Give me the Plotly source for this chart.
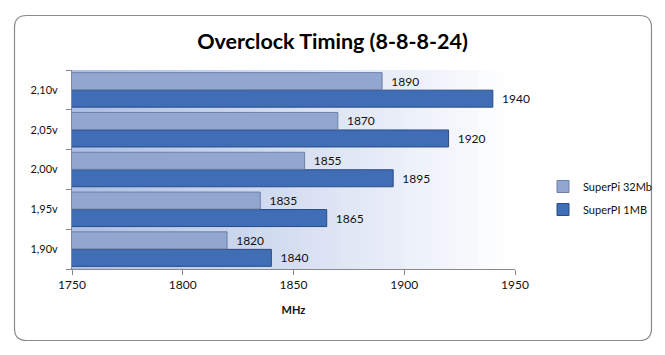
import plotly.graph_objects as go

categories = ["1,90v", "1,95v", "2,00v", "2,05v", "2,10v"]
superpi_32mb = [1820, 1835, 1855, 1870, 1890]
superpi_1mb = [1840, 1865, 1895, 1920, 1940]
x_ticks = [1750, 1800, 1850, 1900, 1950]

W, H = 665, 355
ML, MR, MT, MB = 72, 150, 70, 86
PW, PH = W - ML - MR, H - MT - MB

def px(x):
    return (x - ML) / PW

def py(y):
    return (H - MB - y) / PH

FONT = "Lato"

fig = go.Figure()
fig.add_trace(go.Bar(
    y=categories, x=superpi_1mb, name="SuperPI 1MB", orientation="h",
    legendgroup="b", legendrank=2,
    marker=dict(color="#3f6db6", line=dict(color="#2a4c86", width=1)),
    texttemplate="  %{x}", textposition="outside", cliponaxis=False,
    textfont=dict(family=FONT, size=12, color="#111"),
))
fig.add_trace(go.Bar(
    y=categories, x=superpi_32mb, name="SuperPi 32Mb", orientation="h",
    legendgroup="a", legendrank=1,
    marker=dict(color="#91a7d0", line=dict(color="#6d80a6", width=1)),
    texttemplate="  %{x}", textposition="outside", cliponaxis=False,
    textfont=dict(family=FONT, size=12, color="#111"),
))

shapes = []
# gradient background in plot area
n = 60
c0 = (172, 190, 228)
c1 = (255, 255, 255)
for i in range(n):
    t = i / (n - 1)
    col = tuple(int(round(c0[k] + (c1[k] - c0[k]) * t)) for k in range(3))
    shapes.append(dict(type="rect", xref="x domain", yref="y domain",
                       x0=i / n, x1=(i + 1) / n + 0.002, y0=0, y1=1,
                       fillcolor="rgb(%d,%d,%d)" % col, line=dict(width=0),
                       layer="below"))

# rounded outer border
x0, x1, y0, y1, r = 14.5, 651.5, 15.5, 340.5, 12
path = (
    f"M {px(x0 + r)},{py(y0)} L {px(x1 - r)},{py(y0)} "
    f"Q {px(x1)},{py(y0)} {px(x1)},{py(y0 + r)} "
    f"L {px(x1)},{py(y1 - r)} Q {px(x1)},{py(y1)} {px(x1 - r)},{py(y1)} "
    f"L {px(x0 + r)},{py(y1)} Q {px(x0)},{py(y1)} {px(x0)},{py(y1 - r)} "
    f"L {px(x0)},{py(y0 + r)} Q {px(x0)},{py(y0)} {px(x0 + r)},{py(y0)} Z"
)
shapes.append(dict(type="path", xref="paper", yref="paper", path=path,
                   line=dict(color="#8a8a8a", width=1.2), layer="below"))

fig.update_layout(
    width=W, height=H,
    margin=dict(l=ML, r=MR, t=MT, b=MB, autoexpand=False),
    paper_bgcolor="white", plot_bgcolor="rgba(0,0,0,0)",
    barmode="group", bargap=0.12, bargroupgap=0.03,
    shapes=shapes,
    title=dict(text="<b>Overclock Timing (8-8-8-24)</b>", x=0.5, xanchor="center",
               xref="container", y=1 - 41 / H, yanchor="middle",
               font=dict(family=FONT, size=21.5, color="#000")),
    font=dict(family=FONT, size=12, color="#222"),
    xaxis=dict(range=[1750, 1950], tickvals=x_ticks, ticks="outside", ticklen=5,
               tickcolor="#888", showline=True, linecolor="#888", linewidth=1,
               showgrid=False, zeroline=False, automargin=False,
               tickfont=dict(family=FONT, size=12, color="#111"),
               title=dict(text="<b>MHz</b>", font=dict(family=FONT, size=11, color="#111"),
                          standoff=14)),
    yaxis=dict(ticks="outside", tickson="boundaries", ticklen=5, tickcolor="#888",
               showline=True, linecolor="#888", linewidth=1, showgrid=False,
               automargin=False,
               tickfont=dict(family=FONT, size=11, color="#111"),
               ticklabelstandoff=11),
    legend=dict(x=px(543), xanchor="left", y=py(172), yanchor="top",
                traceorder="grouped", font=dict(family=FONT, size=11, color="#111"),
                bgcolor="rgba(0,0,0,0)", tracegroupgap=4),
)

fig.write_html("out.html", config={"displayModeBar": False},
               post_script="document.body.style.margin='0';document.body.style.overflow='hidden';")
